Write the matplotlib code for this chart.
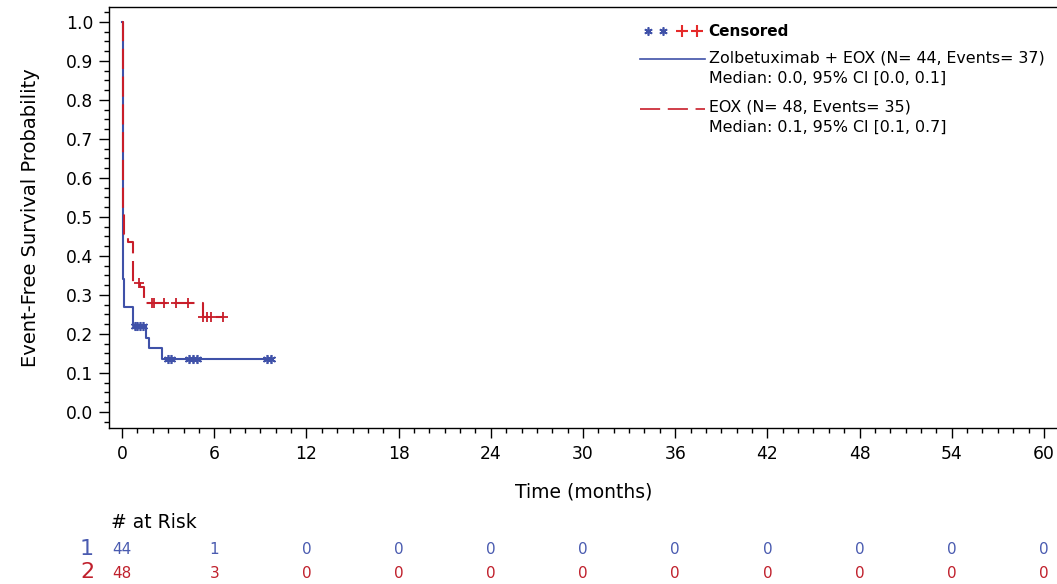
import numpy as np
import matplotlib
matplotlib.use("Agg")
import matplotlib.pyplot as plt
from matplotlib.lines import Line2D
from matplotlib.ticker import MultipleLocator
from matplotlib.transforms import blended_transform_factory

plt.rcParams["font.family"] = ["DejaVu Sans"]
plt.rcParams["lines.scale_dashes"] = False

# Kaplan-Meier step estimates (time in months, survival probability)
blue_t = [0.0, 0.05, 0.15, 0.72, 1.56, 1.73, 2.60, 9.83]
blue_s = [1.0, 0.34, 0.27, 0.22, 0.19, 0.165, 0.135, 0.135]
blue_cens = [0.85, 1.00, 1.15, 1.35, 2.97, 3.20, 4.38, 4.60, 4.90, 9.45, 9.72]

red_t = [0.0, 0.05, 0.12, 0.37, 0.72, 1.20, 1.45, 5.25, 6.60]
red_s = [1.0, 0.52, 0.455, 0.435, 0.33, 0.32, 0.28, 0.243, 0.243]
red_cens = [1.12, 1.93, 2.08, 2.70, 3.50, 4.27, 5.30, 5.55, 5.80, 6.55]

x_ticks = [0, 6, 12, 18, 24, 30, 36, 42, 48, 54, 60]
y_ticks = [0.0, 0.1, 0.2, 0.3, 0.4, 0.5, 0.6, 0.7, 0.8, 0.9, 1.0]
risk_blue = [44, 1, 0, 0, 0, 0, 0, 0, 0, 0, 0]
risk_red = [48, 3, 0, 0, 0, 0, 0, 0, 0, 0, 0]

label_blue = "Zolbetuximab + EOX (N= 44, Events= 37)"
median_blue = "Median: 0.0, 95% CI [0.0, 0.1]"
label_red = "EOX (N= 48, Events= 35)"
median_red = "Median: 0.1, 95% CI [0.1, 0.7]"

BLUE = "#3f51a8"
RED = "#c81e2a"
BLUE_TXT = "#4a5bb0"
RED_TXT = "#c0202c"
DASH = (14.5, 5.5)

W, H = 1057, 584
fig = plt.figure(figsize=(W / 100, H / 100), dpi=100)


def fx(px):
    return px / W


def fy(py):
    return 1 - py / H


ax = fig.add_axes([fx(109), fy(428), fx(1057) - fx(109), fy(7) - fy(428)])


def step_value(t, s, x):
    i = np.searchsorted(t, x, side="right") - 1
    return np.asarray(s)[i]


ax.step(blue_t, blue_s, where="post", color=BLUE, lw=1.5, zorder=3)
ax.plot(blue_cens, step_value(blue_t, blue_s, blue_cens), ls="none",
        marker=(6, 2, 0), ms=6.5, mew=1.2, color=BLUE, zorder=3)

red_line, = ax.step(red_t, red_s, where="post", color=RED, lw=1.5, zorder=4)
red_line.set_dashes(DASH)
ax.plot(red_cens, step_value(red_t, red_s, red_cens), ls="none",
        marker="+", ms=7, mew=1.3, color=RED, zorder=4)

ax.set_xlim(-0.85, 60.85)
ax.set_ylim(-0.041, 1.038)
ax.set_xticks(x_ticks)
ax.set_yticks(y_ticks)
ax.set_yticklabels([f"{v:.1f}" for v in y_ticks])
ax.xaxis.set_minor_locator(MultipleLocator(1))
ax.yaxis.set_minor_locator(MultipleLocator(0.025))
ax.tick_params(which="major", length=7.2, width=1.0, labelsize=12.3, direction="out")
ax.tick_params(which="minor", length=3.6, width=1.0, direction="out")
ax.tick_params(axis="x", pad=5)
ax.tick_params(axis="y", pad=4)
ax.spines["right"].set_visible(False)
for sp in ("left", "top", "bottom"):
    ax.spines[sp].set_linewidth(1.0)

fig.text(fx(584), fy(492), "Time (months)", fontsize=13.5, ha="center", va="center")
fig.text(fx(31), fy(218), "Event-Free Survival Probability", fontsize=14,
         rotation=90, ha="center", va="center")

# Legend block
fig.add_artist(Line2D([fx(648), fx(663)], [fy(31), fy(31)], ls="none",
                      marker=(6, 2, 0), ms=6, mew=1.2, color=BLUE))
fig.add_artist(Line2D([fx(682), fx(697)], [fy(31), fy(31)], ls="none",
                      marker="+", ms=8, mew=1.5, color="#e52a2a"))
fig.text(fx(708), fy(31), "Censored", fontsize=11, fontweight="bold",
         ha="left", va="center")
fig.add_artist(Line2D([fx(640), fx(705)], [fy(59), fy(59)], color=BLUE, lw=1.2))
fig.text(fx(709), fy(58), label_blue, fontsize=11.4, ha="left", va="center")
fig.text(fx(709), fy(78), median_blue, fontsize=11.4, ha="left", va="center")
leg_red = Line2D([fx(640), fx(705)], [fy(109), fy(109)], color=RED, lw=1.2)
leg_red.set_dashes(DASH)
fig.add_artist(leg_red)
fig.text(fx(709), fy(107), label_red, fontsize=11.4, ha="left", va="center")
fig.text(fx(709), fy(127), median_red, fontsize=11.4, ha="left", va="center")

# Number at risk table
tr = blended_transform_factory(ax.transData, fig.transFigure)
fig.text(fx(111), fy(523), "# at Risk", fontsize=13.5, ha="left", va="center")
fig.text(fx(87), fy(549), "1", fontsize=16, color=BLUE_TXT, ha="center", va="center")
fig.text(fx(87), fy(572), "2", fontsize=16, color=RED_TXT, ha="center", va="center")
for xt, nb, nr in zip(x_ticks, risk_blue, risk_red):
    ax.text(xt, fy(550), str(nb), transform=tr, fontsize=11, color=BLUE_TXT,
            ha="center", va="center", clip_on=False)
    ax.text(xt, fy(573), str(nr), transform=tr, fontsize=11, color=RED_TXT,
            ha="center", va="center", clip_on=False)

fig.savefig("out.png", dpi=100)
